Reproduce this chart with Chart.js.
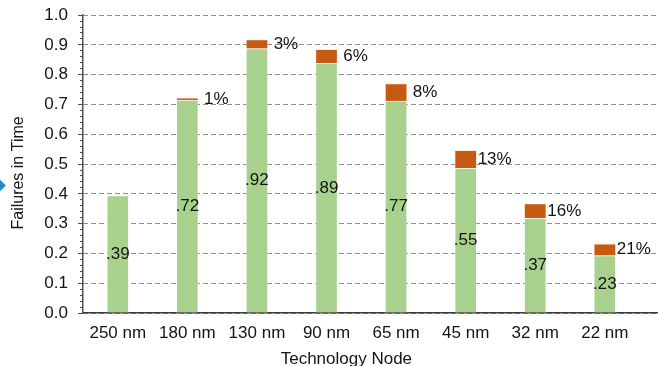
<!DOCTYPE html>
<html>
<head>
<meta charset="utf-8">
<script src="https://cdn.jsdelivr.net/npm/chart.js@4.4.0/dist/chart.umd.min.js"></script>
<style>
  html, body { margin: 0; padding: 0; background: #fff; overflow: hidden; }
  #wrap { position: relative; width: 658px; height: 366px; }
  .pointer { position: absolute; left: -5px; top: 181px; width: 9px; height: 9px; background: #1f8bc2; transform: rotate(45deg); }
</style>
</head>
<body>
<div id="wrap">
  <canvas id="chart" width="658" height="366"></canvas>
  <div class="pointer"></div>
</div>
<script>
// ── Data ─────────────────────────────────────────────────────────────
const nodes = ['250 nm', '180 nm', '130 nm', '90 nm', '65 nm', '45 nm', '32 nm', '22 nm'];
const baseFit = [0.394, 0.714, 0.888, 0.838, 0.712, 0.486, 0.318, 0.193];
const addedFit = [0, 0.008, 0.030, 0.047, 0.058, 0.060, 0.049, 0.039];
const totalLabels = ['.39', '.72', '.92', '.89', '.77', '.55', '.37', '.23'];
const shareLabels = ['', '1%', '3%', '6%', '8%', '13%', '16%', '21%'];
const yTicks = [0, 0.1, 0.2, 0.3, 0.4, 0.5, 0.6, 0.7, 0.8, 0.9, 1.0];

const FONT = "'Liberation Sans', Arial, sans-serif";
const SIZE = 17;
const TEXT = '#141414';
const AXIS = '#505050';

// minor ticks every 0.02 on the value axis
const minorTicks = [];
for (let i = 0; i <= 50; i++) minorTicks.push({ value: i / 50 });

// ── Bar labels ───────────────────────────────────────────────────────
const barLabels = {
    id: 'barLabels',
    afterDatasetsDraw(chart) {
        const ctx = chart.ctx;
        const base = chart.getDatasetMeta(0).data;
        const top = chart.getDatasetMeta(1).data;
        ctx.save();
        ctx.font = SIZE + 'px ' + FONT;
        ctx.fillStyle = TEXT;
        ctx.textBaseline = 'middle';
        ctx.textAlign = 'center';
        base.forEach((el, i) => {
            ctx.fillText(totalLabels[i], el.x, (el.y + el.base) / 2);
        });
        top.forEach((el, i) => {
            if (!shareLabels[i]) return;
            ctx.fillText(shareLabels[i], el.x + 29, (el.y + el.base) / 2);
        });
        ctx.restore();
    }
};

new Chart(document.getElementById('chart'), {
    type: 'bar',
    data: {
        datasets: [
            {
                label: 'Base FIT',
                data: baseFit.map((v, i) => ({ x: i, y: v })),
                backgroundColor: '#a9d18e',
                borderColor: 'rgba(255,255,255,0.35)',
                borderWidth: 1,
                barThickness: 22,
            },
            {
                label: 'Added FIT',
                data: addedFit.map((v, i) => ({ x: i, y: v })),
                backgroundColor: '#c55a11',
                borderColor: 'rgba(255,220,190,0.6)',
                borderWidth: 1,
                barThickness: 22,
            }
        ]
    },
    options: {
        responsive: false,
        animation: false,
        layout: { padding: { left: 0, top: 0, right: 1, bottom: 0 } },
        plugins: {
            legend: { display: false },
            tooltip: { enabled: false }
        },
        scales: {
            x: {
                type: 'linear',
                stacked: true,
                offset: false,
                min: -0.5,
                max: 7.75,
                afterBuildTicks: s => { s.ticks = nodes.map((_, i) => ({ value: i })); },
                afterFit: s => { s.height = 53; },
                grid: { display: false, drawTicks: false },
                border: { display: true, color: '#3a3a3a', width: 1.5 },
                ticks: {
                    padding: 10,
                    color: TEXT,
                    font: { family: FONT, size: SIZE },
                    maxRotation: 0,
                    autoSkip: false,
                    callback: v => nodes[v]
                },
                title: {
                    display: true,
                    // trailing spaces pull the centred title left, as in the source
                    text: 'Technology Node          ',
                    color: TEXT,
                    font: { family: FONT, size: SIZE },
                    padding: { top: 0, bottom: -4 }
                }
            },
            y: {
                stacked: true,
                min: 0,
                max: 1,
                weight: 1,
                afterBuildTicks: s => { s.ticks = yTicks.map(v => ({ value: v })); },
                afterFit: s => { s.width = 83; },
                grid: { color: '#8f8f8f', tickColor: AXIS, tickLength: 5 },
                border: { display: false, color: AXIS, width: 1, dash: [5, 3] },
                ticks: {
                    padding: 10,
                    color: TEXT,
                    // small lineHeight keeps the top label from pushing the plot down
                    font: { family: FONT, size: SIZE, lineHeight: 0.6 },
                    callback: v => v.toFixed(1)
                },
                title: {
                    display: true,
                    // trailing spaces nudge the rotated title down a little
                    text: 'Failures in Time    ',
                    color: TEXT,
                    font: { family: FONT, size: 16 },
                    padding: { top: 9, bottom: 0 }
                }
            },
            yMinor: {
                type: 'linear',
                position: 'left',
                min: 0,
                max: 1,
                weight: 0,
                afterBuildTicks: s => { s.ticks = minorTicks.slice(); },
                afterFit: s => { s.width = 0; },
                grid: { drawOnChartArea: false, tickColor: AXIS, tickLength: 3 },
                border: { display: true, color: AXIS, width: 1.5 },
                ticks: { display: false }
            }
        }
    },
    plugins: [barLabels]
});
</script>
</body>
</html>
